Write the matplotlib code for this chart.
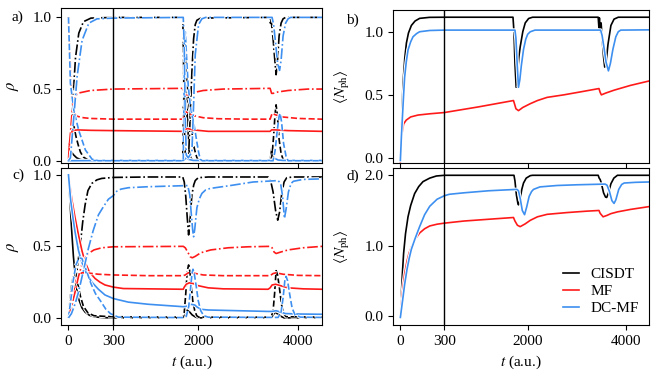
import numpy as np
import matplotlib
matplotlib.use("Agg")
import matplotlib.pyplot as plt
import matplotlib.patheffects as pe
from matplotlib.ticker import FormatStrFormatter

plt.rcParams['font.family'] = ['Liberation Serif', 'DejaVu Serif']
plt.rcParams['mathtext.fontset'] = 'stix'
plt.rcParams['font.size'] = 11

# colours per method
C_CISDT = 'black'
C_MF = '#ff1a1a'
C_DCMF = '#3d8ff0'

# ---- panel a: populations, first initial state (t, rho) ----
a_cisdt_solid = [(0, 0), (5, 0.03), (12, 0.06), (20, 0.06), (35, 0.04), (55, 0.02), (80, 0.008),
                 (120, 0.002), (300, 0), (1700, 0), (1740, 0.25), (1765, 0.52), (1785, 0.3),
                 (1810, 0.08), (1850, 0.02), (1900, 0), (3440, 0), (3460, 0.05), (3475, 0.09),
                 (3490, 0.03), (3530, 0.015), (3600, 0.004), (3650, 0), (4480, 0)]
a_cisdt_dash = [(0, 1.0), (5, 0.85), (10, 0.7), (20, 0.45), (30, 0.3), (40, 0.22), (50, 0.17),
                (65, 0.11), (80, 0.06), (100, 0.025), (130, 0.006), (170, 0), (1690, 0),
                (1705, 0.5), (1720, 0.9), (1740, 0.75), (1770, 0.55), (1807, 0.41), (1840, 0.3),
                (1873, 0.2), (1905, 0.11), (1940, 0.06), (1975, 0.02), (2010, 0), (3450, 0),
                (3480, 0.04), (3510, 0.17), (3540, 0.33), (3560, 0.39), (3585, 0.32), (3620, 0.15),
                (3660, 0.05), (3700, 0.01), (3750, 0), (4480, 0)]
a_cisdt_dashdot = [(0, 0), (10, 0.05), (25, 0.35), (47, 0.72), (69, 0.89), (100, 0.97), (150, 0.995),
                   (300, 1.0), (1690, 1.0), (1705, 0.7), (1720, 0.25), (1740, 0.05), (1770, 0.03),
                   (1807, 0.03), (1840, 0.32), (1873, 0.62), (1907, 0.85), (1940, 0.95), (1973, 0.98),
                   (2050, 0.995), (3430, 1.0), (3445, 0.96), (3455, 0.99), (3470, 0.95), (3500, 0.85),
                   (3530, 0.72), (3560, 0.6), (3585, 0.68), (3620, 0.87), (3660, 0.96), (3700, 0.99),
                   (3750, 1.0), (4480, 1.0)]
a_mf_solid = [(0, 0), (7, 0.14), (25, 0.21), (58, 0.215), (150, 0.212), (300, 0.21), (1700, 0.205),
              (1720, 0.215), (1780, 0.225), (1900, 0.215), (2200, 0.205), (3440, 0.205),
              (3470, 0.215), (3550, 0.215), (3800, 0.21), (4480, 0.205)]
a_mf_dash = [(0, 1.0), (5, 0.85), (13, 0.66), (25, 0.42), (36, 0.33), (58, 0.31), (100, 0.3),
             (147, 0.295), (300, 0.29), (1700, 0.29), (1720, 0.33), (1740, 0.345), (1800, 0.33),
             (1900, 0.315), (2100, 0.3), (2400, 0.293), (3000, 0.29), (3440, 0.29), (3460, 0.31),
             (3480, 0.33), (3550, 0.32), (3700, 0.305), (4000, 0.295), (4480, 0.29)]
a_mf_dashdot = [(0, 0), (5, 0.1), (13, 0.19), (25, 0.35), (36, 0.42), (58, 0.47), (147, 0.49),
                (300, 0.5), (1700, 0.505), (1720, 0.47), (1750, 0.455), (1800, 0.46), (1900, 0.475),
                (2100, 0.49), (2500, 0.5), (3440, 0.505), (3470, 0.47), (3500, 0.47), (3600, 0.48),
                (3800, 0.49), (4200, 0.5), (4480, 0.5)]
a_dcmf_solid = [(0, 0), (300, 0.002), (1700, 0.002), (1760, 0.02), (1800, 0.01), (1900, 0.002),
                (3480, 0.002), (3540, 0.015), (3600, 0.005), (3700, 0.002), (4480, 0.002)]
a_dcmf_dash = [(0, 1.0), (13, 0.54), (36, 0.35), (69, 0.21), (113, 0.075), (158, 0.01), (200, 0),
               (1700, 0), (1720, 0.6), (1740, 0.9), (1770, 0.7), (1800, 0.52), (1840, 0.39),
               (1873, 0.32), (1907, 0.27), (1940, 0.2), (1973, 0.13), (2007, 0.06), (2040, 0.01),
               (2080, 0), (3500, 0), (3540, 0.07), (3580, 0.2), (3620, 0.31), (3640, 0.33),
               (3670, 0.27), (3710, 0.12), (3760, 0.03), (3800, 0), (4480, 0)]
a_dcmf_dashdot = [(0, 0), (13, 0.02), (36, 0.31), (58, 0.59), (91, 0.84), (136, 0.96), (191, 0.99),
                  (300, 0.995), (1700, 1.0), (1720, 0.8), (1740, 0.3), (1760, 0.04), (1800, 0.02),
                  (1873, 0.06), (1907, 0.39), (1940, 0.74), (2007, 0.95), (2073, 0.99), (2150, 1.0),
                  (3480, 1.0), (3510, 0.95), (3550, 0.82), (3590, 0.68), (3630, 0.63), (3660, 0.7),
                  (3700, 0.87), (3750, 0.96), (3800, 0.99), (3850, 1.0), (4480, 1.0)]

# ---- panel c: populations, second initial state ----
c_cisdt_solid = [(0, 1), (10, 0.82), (22, 0.6), (33, 0.43), (44, 0.3), (55, 0.2), (67, 0.135),
                 (90, 0.07), (111, 0.04), (140, 0.018), (178, 0.006), (250, 0.001), (300, 0),
                 (1700, 0), (1740, 0.02), (1775, 0.054), (1830, 0.04), (1880, 0.02), (1950, 0.005),
                 (2000, 0), (3460, 0), (3500, 0.02), (3540, 0.04), (3600, 0.025), (3660, 0.01),
                 (3720, 0), (4480, 0)]
c_cisdt_dash = [(0, 0), (10, 0.12), (22, 0.24), (35, 0.3), (45, 0.3), (60, 0.25), (80, 0.15),
                (100, 0.08), (130, 0.035), (170, 0.015), (250, 0.01), (300, 0.008), (1700, 0.005),
                (1720, 0.04), (1750, 0.17), (1780, 0.33), (1807, 0.37), (1830, 0.33), (1860, 0.22),
                (1890, 0.12), (1930, 0.05), (1970, 0.015), (2010, 0.005), (3460, 0.005),
                (3500, 0.05), (3530, 0.17), (3560, 0.33), (3590, 0.3), (3630, 0.2), (3670, 0.09),
                (3710, 0.03), (3760, 0.008), (4480, 0.005)]
c_cisdt_dashdot = [(0, 0), (20, 0.06), (44, 0.2), (62, 0.38), (78, 0.5), (95, 0.67), (111, 0.79),
                   (130, 0.89), (156, 0.94), (190, 0.965), (222, 0.975), (300, 0.982), (1000, 0.985),
                   (1690, 0.985), (1720, 0.95), (1750, 0.85), (1780, 0.7), (1807, 0.58), (1830, 0.66),
                   (1873, 0.86), (1910, 0.93), (1940, 0.96), (2000, 0.98), (2200, 0.985),
                   (3400, 0.985), (3450, 0.96), (3500, 0.88), (3550, 0.75), (3593, 0.683),
                   (3630, 0.74), (3673, 0.87), (3720, 0.95), (3773, 0.98), (3900, 0.985),
                   (4480, 0.985)]
c_mf_solid = [(0, 1), (22, 0.83), (44, 0.7), (67, 0.58), (90, 0.47), (111, 0.39), (140, 0.32),
              (178, 0.275), (210, 0.25), (244, 0.23), (300, 0.215), (500, 0.205), (1700, 0.2),
              (1720, 0.215), (1760, 0.235), (1820, 0.245), (1900, 0.24), (2000, 0.225),
              (2200, 0.21), (2500, 0.203), (3400, 0.2), (3440, 0.21), (3480, 0.23), (3550, 0.235),
              (3650, 0.225), (3800, 0.21), (4100, 0.203), (4480, 0.2)]
c_mf_dash = [(0, 0), (15, 0.1), (33, 0.18), (50, 0.26), (67, 0.3), (90, 0.315), (120, 0.315),
             (200, 0.305), (300, 0.3), (1000, 0.295), (1700, 0.295), (1740, 0.3), (1800, 0.315),
             (1900, 0.313), (2100, 0.3), (2500, 0.295), (3440, 0.295), (3500, 0.31), (3560, 0.315),
             (3700, 0.305), (4000, 0.297), (4480, 0.295)]
c_mf_dashdot = [(0, 0), (20, 0.08), (44, 0.18), (67, 0.29), (89, 0.37), (111, 0.42), (133, 0.45),
                (170, 0.475), (222, 0.49), (300, 0.497), (1700, 0.5), (1740, 0.49), (1790, 0.46),
                (1840, 0.427), (1880, 0.42), (1940, 0.43), (2050, 0.455), (2250, 0.475),
                (2600, 0.49), (3000, 0.497), (3440, 0.5), (3480, 0.49), (3520, 0.46), (3560, 0.45),
                (3650, 0.46), (3800, 0.475), (4100, 0.49), (4480, 0.5)]
c_dcmf_solid = [(0, 1), (15, 0.82), (30, 0.7), (44, 0.6), (67, 0.47), (89, 0.39), (120, 0.31),
                (156, 0.25), (200, 0.2), (244, 0.16), (300, 0.135), (600, 0.11), (1000, 0.095),
                (1700, 0.078), (1760, 0.08), (1850, 0.095), (1930, 0.09), (1980, 0.075),
                (2050, 0.06), (2200, 0.055), (3400, 0.045), (3480, 0.045), (3560, 0.05),
                (3650, 0.04), (3750, 0.03), (4000, 0.027), (4480, 0.025)]
c_dcmf_dash = [(0, 0), (15, 0.12), (30, 0.25), (50, 0.37), (70, 0.42), (90, 0.415), (120, 0.33),
               (150, 0.24), (180, 0.17), (213, 0.12), (250, 0.06), (280, 0.03), (300, 0.02),
               (400, 0.005), (1700, 0.002), (1760, 0.01), (1810, 0.08), (1850, 0.22),
               (1875, 0.31), (1895, 0.34), (1920, 0.31), (1960, 0.22), (2000, 0.12), (2050, 0.05),
               (2110, 0.015), (2200, 0.005), (3600, 0.003), (3660, 0.04), (3700, 0.14),
               (3735, 0.26), (3760, 0.29), (3790, 0.26), (3830, 0.17), (3880, 0.07), (3940, 0.02),
               (4050, 0.005), (4480, 0.003)]
c_dcmf_dashdot = [(0, 0), (20, 0.03), (45, 0.1), (67, 0.18), (100, 0.33), (133, 0.485),
                  (165, 0.61), (200, 0.72), (235, 0.78), (267, 0.83), (300, 0.855), (366, 0.885),
                  (450, 0.9), (600, 0.91), (1000, 0.917), (1790, 0.925), (1830, 0.86),
                  (1860, 0.73), (1890, 0.61), (1907, 0.567), (1930, 0.62), (1973, 0.77),
                  (2020, 0.83), (2073, 0.87), (2150, 0.895), (2240, 0.905), (2640, 0.925),
                  (3100, 0.95), (3600, 0.96), (3650, 0.94), (3690, 0.85), (3727, 0.695),
                  (3760, 0.76), (3807, 0.88), (3860, 0.94), (3907, 0.955), (4100, 0.968),
                  (4480, 0.972)]

# ---- panel b: photon number, first initial state ----
b_cisdt = [(0, -0.02), (5, 0.15), (10, 0.3), (18, 0.59), (30, 0.79), (41, 0.91), (55, 0.99),
           (75, 1.05), (100, 1.085), (131, 1.106), (198, 1.114), (300, 1.115), (1700, 1.115),
           (1720, 1.0), (1740, 0.75), (1765, 0.56), (1790, 0.65), (1820, 0.8), (1847, 0.88),
           (1900, 1.0), (1950, 1.07), (2020, 1.105), (2100, 1.115), (3440, 1.115), (3455, 1.03),
           (3465, 1.11), (3480, 1.0), (3500, 1.07), (3520, 0.95), (3550, 0.8), (3573, 0.72),
           (3600, 0.75), (3640, 0.9), (3700, 1.05), (3764, 1.1), (3850, 1.115), (4480, 1.115)]
b_mf = [(0, -0.03), (3, 0.05), (7, 0.14), (12, 0.2), (22, 0.27), (40, 0.3), (70, 0.325),
        (120, 0.34), (200, 0.35), (300, 0.36), (1000, 0.405), (1710, 0.455), (1730, 0.43),
        (1760, 0.39), (1812, 0.375), (1900, 0.4), (2053, 0.43), (2200, 0.455), (2396, 0.48),
        (2737, 0.5), (3100, 0.525), (3456, 0.55), (3480, 0.52), (3505, 0.5), (3600, 0.515),
        (3764, 0.537), (4100, 0.575), (4480, 0.61)]
b_dcmf = [(0, -0.02), (7, 0.17), (14, 0.325), (22, 0.5), (29, 0.64), (40, 0.76), (52, 0.855),
          (70, 0.92), (86, 0.96), (110, 0.985), (131, 1.0), (200, 1.01), (300, 1.013),
          (1740, 1.013), (1760, 0.95), (1785, 0.75), (1812, 0.56), (1840, 0.62), (1870, 0.73),
          (1915, 0.86), (1960, 0.94), (2000, 0.98), (2053, 1.0), (2150, 1.013), (3490, 1.013),
          (3520, 0.97), (3560, 0.87), (3600, 0.76), (3649, 0.69), (3690, 0.75), (3740, 0.86),
          (3800, 0.96), (3850, 1.0), (3901, 1.013), (4480, 1.015)]

# ---- panel d: photon number, second initial state ----
d_cisdt = [(0, -0.02), (5, 0.22), (10, 0.45), (15, 0.65), (22, 0.89), (35, 1.17), (52, 1.41),
           (70, 1.57), (97, 1.74), (125, 1.84), (154, 1.91), (200, 1.96), (245, 1.99), (300, 2.0),
           (1720, 2.0), (1740, 1.92), (1770, 1.72), (1800, 1.6), (1812, 1.58), (1840, 1.64),
           (1880, 1.8), (1915, 1.89), (1970, 1.96), (2053, 1.995), (2100, 2.0), (3440, 2.0),
           (3460, 1.96), (3480, 1.94), (3500, 1.9), (3550, 1.75), (3590, 1.69), (3614, 1.685),
           (3650, 1.75), (3700, 1.88), (3760, 1.96), (3833, 2.0), (4480, 2.0)]
d_mf = [(0, -0.02), (10, 0.25), (20, 0.45), (29, 0.6), (45, 0.78), (60, 0.9), (75, 0.98),
        (100, 1.09), (131, 1.18), (165, 1.24), (200, 1.28), (250, 1.305), (300, 1.32), (700, 1.35),
        (1200, 1.375), (1710, 1.40), (1740, 1.35), (1790, 1.29), (1847, 1.27), (1950, 1.31),
        (2053, 1.36), (2200, 1.41), (2396, 1.445), (2800, 1.47), (3200, 1.49), (3456, 1.50),
        (3480, 1.46), (3540, 1.41), (3620, 1.43), (3700, 1.455), (3833, 1.48), (4100, 1.515),
        (4480, 1.555)]
d_dcmf = [(0, -0.02), (10, 0.14), (20, 0.3), (29, 0.45), (45, 0.66), (60, 0.82), (75, 0.95),
          (100, 1.1), (131, 1.27), (165, 1.44), (200, 1.56), (250, 1.66), (300, 1.71), (400, 1.73),
          (683, 1.75), (1200, 1.78), (1780, 1.80), (1812, 1.78), (1850, 1.66), (1890, 1.5),
          (1936, 1.44), (1980, 1.55), (2030, 1.7), (2080, 1.77), (2120, 1.80), (2250, 1.835),
          (2600, 1.855), (3000, 1.865), (3580, 1.875), (3620, 1.86), (3670, 1.77), (3720, 1.64),
          (3764, 1.6), (3800, 1.65), (3860, 1.8), (3920, 1.87), (3970, 1.89), (4200, 1.9),
          (4480, 1.905)]

x_ticks = [0, 300, 2000, 4000]
t_break = 300
squeeze = 3.0


def fwd(t):
    t = np.asarray(t, dtype=float)
    return np.where(t < t_break, t, t_break + (t - t_break) / squeeze)


def inv(x):
    x = np.asarray(x, dtype=float)
    return np.where(x < t_break, x, t_break + (x - t_break) * squeeze)


halo = [pe.withStroke(linewidth=2.6, foreground='white')]


def draw(ax, pts, color, ls='-', label=None):
    t, y = zip(*pts)
    ax.plot(t, y, color=color, ls=ls, lw=1.2, label=label, path_effects=halo)


fig = plt.figure(figsize=(6.6, 3.8), dpi=100)
ax_a = fig.add_axes([0.0924, 0.571, 0.3955, 0.407])
ax_c = fig.add_axes([0.0924, 0.1447, 0.3955, 0.414])
ax_b = fig.add_axes([0.5955, 0.571, 0.388, 0.4026])
ax_d = fig.add_axes([0.5955, 0.1447, 0.388, 0.414])

for ax, curves in [(ax_a, [(a_cisdt_solid, a_cisdt_dash, a_cisdt_dashdot, C_CISDT),
                           (a_mf_solid, a_mf_dash, a_mf_dashdot, C_MF),
                           (a_dcmf_solid, a_dcmf_dash, a_dcmf_dashdot, C_DCMF)]),
                   (ax_c, [(c_cisdt_solid, c_cisdt_dash, c_cisdt_dashdot, C_CISDT),
                           (c_mf_solid, c_mf_dash, c_mf_dashdot, C_MF),
                           (c_dcmf_solid, c_dcmf_dash, c_dcmf_dashdot, C_DCMF)])]:
    for solid, dash, dashdot, col in curves:
        draw(ax, solid, col, '-')
        draw(ax, dash, col, '--')
        draw(ax, dashdot, col, '-.')

for ax, (cis, mf, dc) in [(ax_b, (b_cisdt, b_mf, b_dcmf)), (ax_d, (d_cisdt, d_mf, d_dcmf))]:
    draw(ax, cis, C_CISDT, label='CISDT')
    draw(ax, mf, C_MF, label='MF')
    draw(ax, dc, C_DCMF, label='DC-MF')

for ax in (ax_a, ax_b, ax_c, ax_d):
    ax.set_xscale('function', functions=(fwd, inv))
    ax.set_xlim(-50, 4480)
    ax.set_xticks(x_ticks)
    ax.set_xticklabels([str(v) for v in x_ticks])
    ax.axvline(t_break, color='black', lw=1.0, zorder=5)
    ax.tick_params(labelsize=11, width=0.8, length=3.5)
    for s in ax.spines.values():
        s.set_linewidth(0.8)

ax_a.set_ylim(-0.016, 1.063)
ax_c.set_ylim(-0.05, 1.05)
ax_b.set_ylim(-0.04, 1.172)
ax_d.set_ylim(-0.128, 2.108)
for ax in (ax_a, ax_c, ax_b):
    ax.set_yticks([0, 0.5, 1.0])
ax_d.set_yticks([0, 1.0, 2.0])
for ax in (ax_a, ax_b, ax_c, ax_d):
    ax.yaxis.set_major_formatter(FormatStrFormatter('%.1f'))

ax_a.tick_params(labelbottom=False)
ax_b.tick_params(labelbottom=False)

ax_a.set_ylabel(r'$\rho$', fontsize=12)
ax_c.set_ylabel(r'$\rho$', fontsize=12)
ax_b.set_ylabel(r'$\langle N_{\mathrm{ph}}\rangle$')
ax_d.set_ylabel(r'$\langle N_{\mathrm{ph}}\rangle$')
ax_a.yaxis.set_label_coords(-0.155, 0.5)
ax_c.yaxis.set_label_coords(-0.155, 0.5)
ax_b.yaxis.set_label_coords(-0.16, 0.5)
ax_d.yaxis.set_label_coords(-0.16, 0.5)
ax_c.set_xlabel(r'$t$ (a.u.)')
ax_d.set_xlabel(r'$t$ (a.u.)')

fig.text(12 / 660, 1 - 17 / 380, 'a)', ha='left', va='center', fontsize=11)
fig.text(12 / 660, 1 - 175 / 380, 'c)', ha='left', va='center', fontsize=11)
fig.text(346 / 660, 1 - 20 / 380, 'b)', ha='left', va='center', fontsize=11)
fig.text(346 / 660, 1 - 176 / 380, 'd)', ha='left', va='center', fontsize=11)

ax_d.legend(loc='lower right', frameon=False, fontsize=11, handlelength=1.0,
            labelspacing=0.22, handletextpad=0.8, borderaxespad=0.25)

fig.savefig('out.png', dpi=100)
